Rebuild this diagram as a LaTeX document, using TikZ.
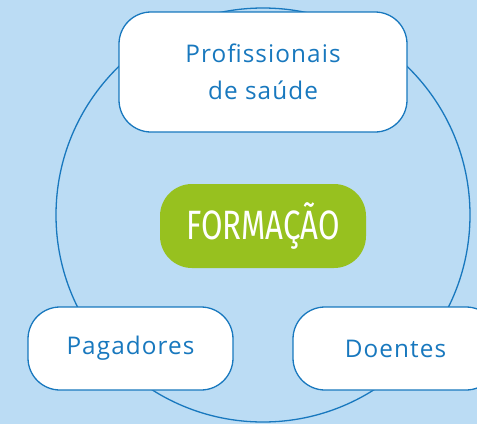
\documentclass[tikz,border=0pt]{standalone}
\usepackage{fontspec}
\setmainfont{Open Sans}[LetterSpace=4.5]
\newfontfamily\condfont{Fira Sans}
\usepackage{graphicx}
\definecolor{bgblue}{HTML}{BBDCF4}
\definecolor{lineblue}{HTML}{1878BE}
\definecolor{leafgreen}{HTML}{97C11F}
\tikzset{
  actor/.style={draw=lineblue, line width=1.3pt, fill=white, rounded corners=32pt,
    text=lineblue, font=\fontsize{24.3}{37}\selectfont, align=center, inner sep=0pt},
  core/.style={fill=leafgreen, rounded corners=32pt, text=white, inner sep=0pt},
  ring/.style={draw=lineblue, line width=1.3pt}
}
\begin{document}
\begin{tikzpicture}[x=1pt,y=-1pt]
\useasboundingbox (0,0) rectangle (477,424);
\clip (0,0) rectangle (477,424);
\fill[bgblue] (0,0) rectangle (477,424);
\node[ring, circle, minimum size=414pt, inner sep=0pt] (ringc) at (263,215) {};
\node[actor, minimum width=288pt, minimum height=120pt] (prof) at (263,72) {Profissionais\\de saúde};
\node[actor, minimum width=205pt, minimum height=83pt] (pag) at (130.5,348.5) {Pagadores};
\node[actor, minimum width=205pt, minimum height=83pt] (doe) at (395.5,348.5) {Doentes};
\node[core, minimum width=206pt, minimum height=84pt] (form) at (263,226)
  {\condfont\fontsize{41}{41}\selectfont\scalebox{0.76}[1]{FORMAÇÃO}};
\end{tikzpicture}
\end{document}
